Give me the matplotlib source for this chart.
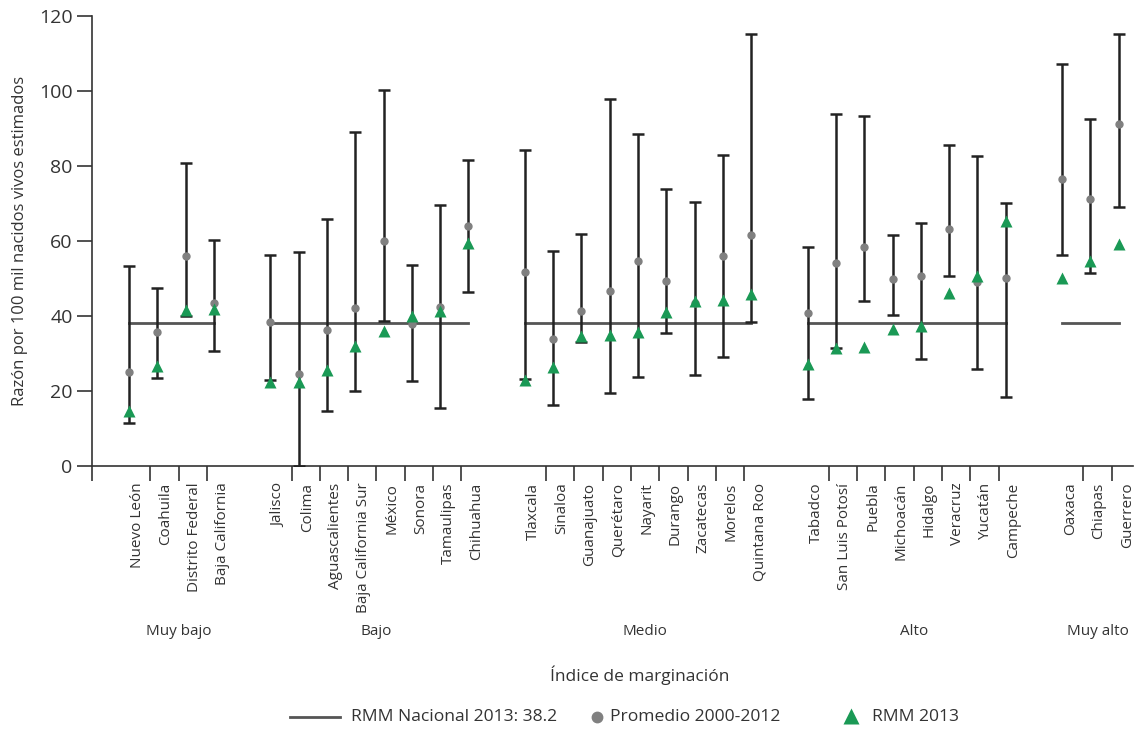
import numpy as np
import matplotlib
matplotlib.use("Agg")
import matplotlib.pyplot as plt
from matplotlib.lines import Line2D

plt.rcParams['font.family'] = ['Open Sans', 'DejaVu Sans']

# Grupos de marginación y estados
groups = ["Muy bajo", "Bajo", "Medio", "Alto", "Muy alto"]
states = [
    ["Nuevo León", "Coahuila", "Distrito Federal", "Baja California"],
    ["Jalisco", "Colima", "Aguascalientes", "Baja California Sur", "México",
     "Sonora", "Tamaulipas", "Chihuahua"],
    ["Tlaxcala", "Sinaloa", "Guanajuato", "Querétaro", "Nayarit", "Durango",
     "Zacatecas", "Morelos", "Quintana Roo"],
    ["Tabadco", "San Luis Potosí", "Puebla", "Michoacán", "Hidalgo", "Veracruz",
     "Yucatán", "Campeche"],
    ["Oaxaca", "Chiapas", "Guerrero"],
]

# Promedio 2000-2012 con sus límites
promedio = [25.2, 35.7, 55.9, 43.6,
            38.3, 24.5, 36.4, 42.1, 60.1, 37.9, 42.3, 64.1,
            51.7, 33.8, 41.4, 46.7, 54.8, 49.3, 43.4, 56.1, 61.6,
            40.9, 54.2, 58.5, 49.8, 50.8, 63.1, 49.0, 50.2,
            76.5, 71.2, 91.3]
limite_sup = [53.3, 47.6, 80.8, 60.3,
              56.3, 57.1, 65.9, 89.1, 100.3, 53.7, 69.5, 81.6,
              84.2, 57.4, 61.9, 97.9, 88.6, 74.0, 70.5, 82.9, 115.3,
              58.5, 93.9, 93.3, 61.6, 64.9, 85.6, 82.8, 70.2,
              107.3, 92.6, 115.3]
limite_inf = [11.4, 23.5, 40.0, 30.7,
              22.9, 0.0, 14.7, 19.9, 38.7, 22.8, 15.4, 46.4,
              23.2, 16.4, 33.0, 19.5, 23.7, 35.6, 24.3, 29.0, 38.4,
              17.9, 31.6, 44.0, 40.4, 28.6, 50.8, 25.8, 18.5,
              56.3, 51.6, 69.2]
# RMM 2013
rmm_2013 = [14.6, 26.7, 41.6, 42.0,
            22.4, 22.4, 25.6, 31.9, 35.9, 40.0, 41.4, 59.6,
            23.0, 26.4, 34.8, 34.9, 35.8, 41.0, 44.0, 44.3, 46.0,
            27.3, 31.6, 31.7, 36.6, 37.4, 46.2, 50.6, 65.3,
            50.2, 54.7, 59.3]
rmm_nacional = 38.2

GRIS = '#555555'
VERDE = '#1a9955'
TEXTO = '#333333'

# posiciones: una casilla vacía entre grupos
pos = []
slot = 0
group_pos = []
for g in states:
    p = list(range(slot, slot + len(g)))
    pos += p
    group_pos.append(p)
    slot += len(g) + 1
pos = np.array(pos, dtype=float)
labels = [s for g in states for s in g]

fig = plt.figure(figsize=(11.34, 7.30), dpi=100)
ax = fig.add_axes([92/1134, 1 - 466/730, 1 - 92/1134 - 0.001, 450/730])

# líneas nacionales por grupo
for p in group_pos:
    ax.plot([p[0], p[-1]], [rmm_nacional] * 2, color=GRIS, lw=2, zorder=2)

prom = np.array(promedio)
yerr = [prom - np.array(limite_inf), np.array(limite_sup) - prom]
ax.errorbar(pos, prom, yerr=yerr, fmt='none', ecolor='#222222', elinewidth=1.8,
            capsize=4, capthick=1.8, zorder=3)
ax.plot(pos, prom, 'o', color='#808080', ms=5, zorder=4)
ax.plot(pos, rmm_2013, '^', color=VERDE, ms=9, mec='none', zorder=5)

ax.set_ylim(0, 120)
ax.set_xlim(-1.31, 35.5)
ax.set_yticks([0, 20, 40, 60, 80, 100, 120])
ax.tick_params(axis='y', direction='out', length=11, width=1.2, color=TEXTO,
               labelsize=14, labelcolor=TEXTO, pad=3)

# etiquetas de estados y separadores
ax.set_xticks(pos + 0.3)
ax.set_xticklabels(labels, rotation=90, fontsize=11, color=TEXTO, va='top')
ax.tick_params(axis='x', which='major', length=0, pad=12)
minor = [ax.get_xlim()[0]]
for p in group_pos:
    minor += [x + 0.75 for x in p[:-1]]
ax.set_xticks(minor, minor=True)
ax.tick_params(axis='x', which='minor', direction='out', length=11, width=1.2,
               color=TEXTO)

for s in ['top', 'right']:
    ax.spines[s].set_visible(False)
for s in ['left', 'bottom']:
    ax.spines[s].set_color(TEXTO)
    ax.spines[s].set_linewidth(1.2)

ax.set_ylabel('Razón por 100 mil nacidos vivos estimados', fontsize=12,
              color=TEXTO, labelpad=8)

# nombres de grupo
for name, p in zip(groups, group_pos):
    xc = (p[0] + p[-1]) / 2 + 0.25
    ax.text(xc, -44, name, ha='center', va='center', fontsize=11,
            color=TEXTO, clip_on=False)

fig.text(640/1134, 1 - 675/730, 'Índice de marginación', ha='center',
         va='center', fontsize=12.5, color=TEXTO)

# leyenda dibujada a mano para respetar el espaciado
yl = 1 - 717/730
fig.add_artist(Line2D([290/1134, 340/1134], [yl, yl], color=GRIS, lw=2,
                      transform=fig.transFigure))
fig.text(351/1134, yl, 'RMM Nacional 2013: 38.2', ha='left', va='center',
         fontsize=12.6, color=TEXTO)
fig.add_artist(Line2D([597/1134], [yl], marker='o', ls='none', color='#808080',
                      ms=7.5, transform=fig.transFigure))
fig.text(610/1134, yl, 'Promedio 2000-2012', ha='left', va='center',
         fontsize=12.6, color=TEXTO)
fig.add_artist(Line2D([851/1134], [yl + 0.002], marker='^', ls='none', color=VERDE,
                      ms=12, mec='none', transform=fig.transFigure))
fig.text(872/1134, yl, 'RMM 2013', ha='left', va='center',
         fontsize=12.6, color=TEXTO)

fig.savefig('out.png', dpi=100)
